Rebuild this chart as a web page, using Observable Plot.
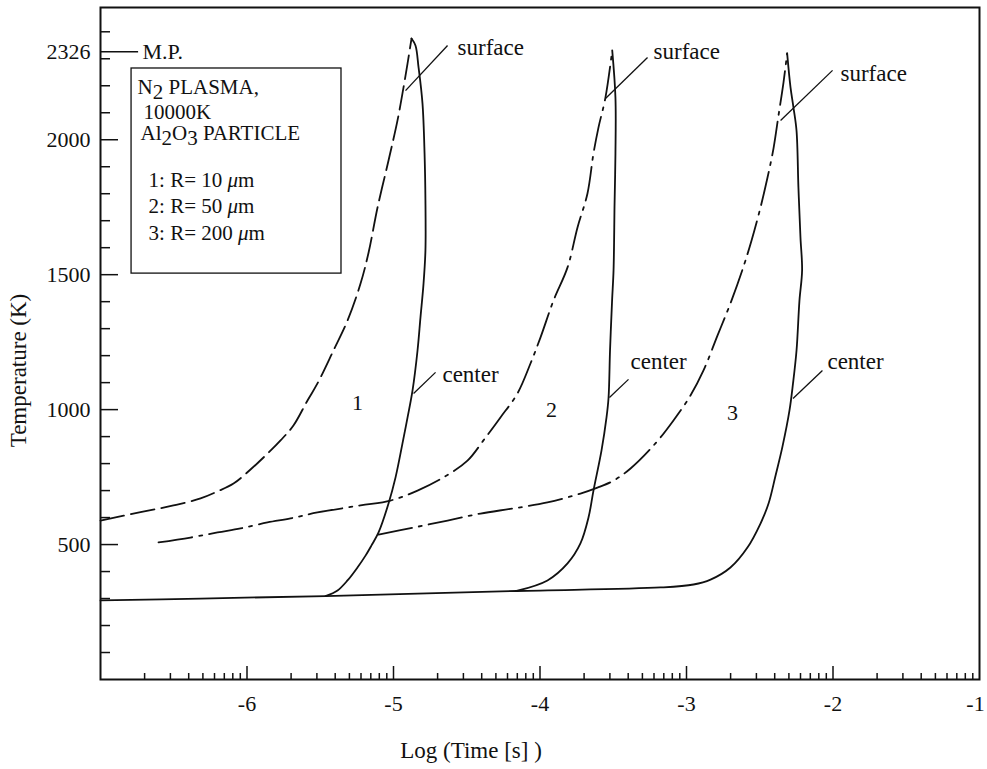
<!DOCTYPE html>
<html><head><meta charset="utf-8">
<script src="https://cdn.jsdelivr.net/npm/d3@7"></script>
<script src="https://cdn.jsdelivr.net/npm/@observablehq/plot@0.6"></script>
<style>body{margin:0;background:#fff}#chart svg{display:block}</style>
</head><body><div id="chart"></div>
<script>
// ---- data (log10 time [s], temperature [K]) ----
const surface1X = [-7, -6.727, -6.502, -6.317, -6.201, -6.092, -5.976, -5.860, -5.771, -5.683, -5.587, -5.519, -5.410, -5.314, -5.225, -5.170, -5.109, -5.034, -4.973, -4.939, -4.904, -4.877];
const surface1T = [589, 620, 645, 671, 697, 726, 778, 837, 886, 941, 1034, 1097, 1219, 1330, 1467, 1582, 1749, 1923, 2071, 2171, 2283, 2375];
const center1X = [-5.464, -5.382, -5.314, -5.246, -5.191, -5.150, -5.102, -5.034, -4.986, -4.939, -4.904, -4.870, -4.836, -4.816, -4.795, -4.782, -4.782, -4.788, -4.802, -4.829, -4.850, -4.877];
const center1T = [309, 330, 367, 415, 459, 497, 545, 652, 749, 874, 971, 1071, 1219, 1341, 1467, 1590, 1775, 1949, 2134, 2268, 2349, 2375];
const surface2X = [-6.604, -6.386, -6.201, -6.044, -5.860, -5.703, -5.519, -5.225, -5.020, -4.836, -4.659, -4.495, -4.386, -4.270, -4.154, -4.065, -3.997, -3.908, -3.812, -3.744, -3.676, -3.635, -3.601, -3.553, -3.507];
const surface2T = [508, 526, 545, 560, 582, 597, 619, 645, 663, 700, 749, 811, 886, 971, 1060, 1171, 1267, 1404, 1527, 1675, 1801, 1949, 2045, 2157, 2331];
const center2X = [-4.160, -3.949, -3.812, -3.724, -3.669, -3.635, -3.580, -3.546, -3.532, -3.522, -3.508, -3.498, -3.491, -3.485, -3.485, -3.507];
const center2T = [328, 367, 430, 504, 600, 700, 849, 971, 1045, 1219, 1404, 1516, 1764, 1949, 2157, 2331];
const surface3X = [-5.102, -4.863, -4.631, -4.406, -4.181, -3.949, -3.724, -3.608, -3.498, -3.382, -3.212, -3.089, -2.973, -2.884, -2.788, -2.693, -2.611, -2.556, -2.495, -2.447, -2.406, -2.372, -2.338, -2.313];
const surface3T = [537, 563, 589, 615, 634, 656, 689, 711, 737, 782, 875, 960, 1052, 1145, 1275, 1404, 1530, 1627, 1749, 1860, 1968, 2090, 2212, 2320];
// center 3 includes the common initial (room-temperature) plateau shared by all particles
const center3X = [-7, -6.317, -5.464, -4.160, -3.177, -2.952, -2.836, -2.700, -2.584, -2.495, -2.440, -2.392, -2.345, -2.297, -2.273, -2.249, -2.229, -2.211, -2.222, -2.236, -2.249, -2.270, -2.290, -2.313];
const center3T = [293, 300, 309, 328, 341, 352, 370, 415, 489, 578, 652, 756, 863, 997, 1097, 1219, 1404, 1516, 1638, 1823, 2034, 2120, 2194, 2320];

// ticks
const xTickLabels = [-6, -5, -4, -3, -2];
const xEdgeLabel = [-1];
const xMajorTicks = [-6, -5, -4, -3, -2];
const xDecades = [-7, -6, -5, -4, -3, -2];
const yTickLabels = [500, 1000, 1500, 2000, 2326];
const yMajorTicks = [500, 1000, 1500, 2000];
const yMinorTicks = [100, 200, 300, 400, 600, 700, 800, 900, 1100, 1200, 1300, 1400, 1600, 1700, 1800, 1900, 2100, 2200, 2300, 2400];
const meltingPoint = 2326;

// annotations (data coordinates)
const curveLabels = [
  {x: -4.563, y: 2342, text: "surface"},
  {x: -3.225, y: 2327, text: "surface"},
  {x: -1.949, y: 2245, text: "surface"},
  {x: -4.666, y: 1130, text: "center"},
  {x: -3.382, y: 1178, text: "center"},
  {x: -2.038, y: 1178, text: "center"}
];
const leaders = [
  {x1: -4.631, y1: 2349, x2: -4.918, y2: 2182},
  {x1: -3.266, y1: 2305, x2: -3.553, y2: 2153},
  {x1: -2.003, y1: 2257, x2: -2.358, y2: 2071},
  {x1: -4.713, y1: 1138, x2: -4.863, y2: 1060},
  {x1: -3.396, y1: 1112, x2: -3.526, y2: 1045},
  {x1: -2.072, y1: 1145, x2: -2.273, y2: 1041}
];
const curveNumbers = [
  {x: -5.246, y: 1026, text: "1"},
  {x: -3.922, y: 997, text: "2"},
  {x: -2.686, y: 989, text: "3"}
];
const legendBox = [{x1: -6.788, x2: -5.355, y1: 1504, y2: 2264}];
const legendLines = [
  {x: -6.747, y: 2196, text: "N_2 PLASMA,"},
  {x: -6.706, y: 2101, text: "10000K"},
  {x: -6.727, y: 2025, text: "Al_2O_3 PARTICLE"},
  {x: -6.672, y: 1849, text: "1: R= 10 μm"},
  {x: -6.672, y: 1753, text: "2: R= 50 μm"},
  {x: -6.672, y: 1653, text: "3: R= 200 μm"}
];
const mpLabel = [{x: -6.713, y: meltingPoint, text: "M.P."}];

// ---- build ----
const rows = (xs, ts) => xs.map((x, i) => ({x, T: ts[i]}));
const xMinorTicks = xDecades.flatMap(n => d3.range(2, 10).map(k => n + Math.log10(k)));

const W = 987, H = 769, ML = 100, MR = 8, MT = 7, MB = 90;
const FW = W - ML - MR, FH = H - MT - MB;
const ink = "#111";
const dashed = "24,7";
const dashDot = "34,7,3,7";
const lw = 1.8;
const lineOpts = extra => ({x: "x", y: "T", stroke: ink, strokeWidth: lw, curve: "catmull-rom", ...extra});

const chart = Plot.plot({
  width: W, height: H,
  marginLeft: ML, marginRight: MR, marginTop: MT, marginBottom: MB,
  style: {fontFamily: "'Liberation Serif', 'Times New Roman', serif", color: ink, background: "#fff"},
  x: {domain: [-7, -1]},
  y: {domain: [0, 2490]},
  marks: [
    Plot.tickX(xMinorTicks, {x: d => d, insetTop: FH - 6, stroke: ink, strokeWidth: 1.5}),
    Plot.tickX(xMajorTicks, {x: d => d, insetTop: FH - 13, stroke: ink, strokeWidth: 1.5}),
    Plot.tickY(yMinorTicks, {y: d => d, insetRight: FW - 10, stroke: ink, strokeWidth: 1.5}),
    Plot.tickY(yMajorTicks, {y: d => d, insetRight: FW - 18, stroke: ink, strokeWidth: 1.5}),
    Plot.axisX(xTickLabels, {tickSize: 0, tickPadding: 16, fontSize: 22, tickFormat: d => String(d), label: null}),
    Plot.axisX(xEdgeLabel, {tickSize: 0, tickPadding: 16, fontSize: 22, dx: -4, tickFormat: d => String(d), label: null}),
    Plot.axisY(yTickLabels, {tickSize: 0, tickPadding: 10, fontSize: 22, tickFormat: d => String(d), label: null}),
    Plot.line(rows(surface1X, surface1T), lineOpts({strokeDasharray: dashed})),
    Plot.line(rows(surface2X, surface2T), lineOpts({strokeDasharray: dashDot})),
    Plot.line(rows(surface3X, surface3T), lineOpts({strokeDasharray: dashDot})),
    Plot.line(rows(center1X, center1T), lineOpts({})),
    Plot.line(rows(center2X, center2T), lineOpts({})),
    Plot.line(rows(center3X, center3T), lineOpts({})),
    Plot.link(leaders, {x1: "x1", y1: "y1", x2: "x2", y2: "y2", stroke: ink, strokeWidth: 1.3}),
    Plot.text(curveLabels, {x: "x", y: "y", text: "text", textAnchor: "start", lineAnchor: "middle", fontSize: 23, fill: ink}),
    Plot.text(curveNumbers, {x: "x", y: "y", text: "text", lineAnchor: "middle", fontSize: 22, fill: ink}),
    Plot.rect(legendBox, {x1: "x1", x2: "x2", y1: "y1", y2: "y2", fill: "none", stroke: ink, strokeWidth: 1.3}),
    Plot.text(legendLines, {x: "x", y: "y", text: "text", textAnchor: "start", lineAnchor: "middle", fontSize: 21, fill: ink}),
    Plot.ruleY([meltingPoint], {x1: -7, x2: -6.74, stroke: ink, strokeWidth: 1.3}),
    Plot.text(mpLabel, {x: "x", y: "y", text: "text", textAnchor: "start", lineAnchor: "middle", fontSize: 22, fill: ink}),
    Plot.text(["Temperature (K)"], {text: d => d, frameAnchor: "left", textAnchor: "middle", lineAnchor: "middle", rotate: -90, dx: -82, dy: 27, fontSize: 23, fill: ink}),
    Plot.text(["Log (Time [s] )"], {text: d => d, frameAnchor: "bottom", textAnchor: "middle", lineAnchor: "middle", dx: -69, dy: 71, fontSize: 23, fill: ink}),
    Plot.frame({stroke: ink, strokeWidth: 2})
  ]
});

// subscripts and italic mu as real tspans
const NS = "http://www.w3.org/2000/svg";
chart.querySelectorAll("text").forEach(t => {
  const s = t.textContent;
  if (!/_\d|μ/.test(s)) return;
  t.textContent = "";
  let low = false;
  s.split(/(_\d|μ)/).forEach(p => {
    if (!p) return;
    const ts = document.createElementNS(NS, "tspan");
    if (p[0] === "_") {
      ts.textContent = p.slice(1);
      if (!low) { ts.setAttribute("dy", "0.25em"); low = true; }
    } else {
      ts.textContent = p;
      if (low) { ts.setAttribute("dy", "-0.25em"); low = false; }
      if (p === "μ") ts.setAttribute("font-style", "italic");
    }
    t.appendChild(ts);
  });
});

document.getElementById("chart").appendChild(chart);
</script>
</body></html>
